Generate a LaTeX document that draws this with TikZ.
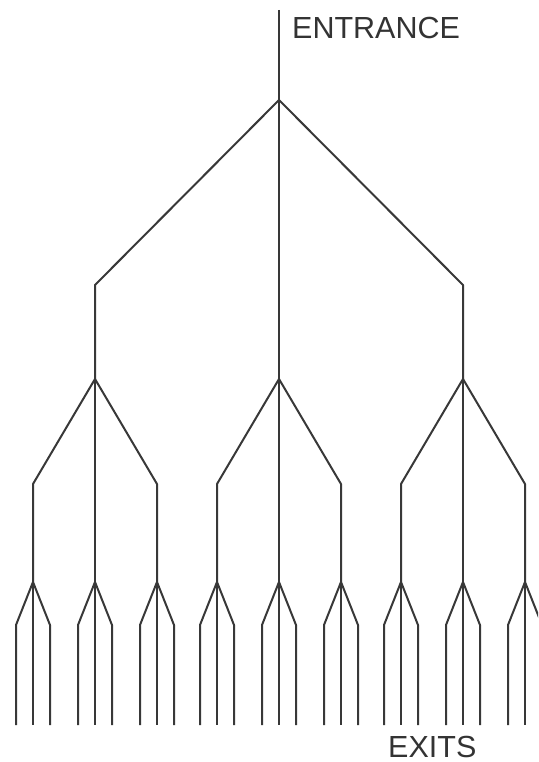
\documentclass[tikz,border=0pt]{standalone}
\usepackage{fontspec}
\setmainfont{Liberation Sans}
\begin{document}
\begin{tikzpicture}[x=1pt,y=-1pt,
  branch/.style={line width=2pt, draw=black!78, line join=round},
  lbl/.style={anchor=base west, font=\fontsize{30.5}{36}\selectfont, text=black!80, inner sep=0pt}]
\useasboundingbox (0,0) rectangle (538,762);
\clip (0,0) rectangle (538,762);
\coordinate (top) at (279,10);
\coordinate (root) at (279,100);
\draw[branch] (top) -- (root);
\foreach \i/\cx in {1/95,2/279,3/463} {
  \coordinate (k\i) at (\cx,285);
  \coordinate (b\i) at (\cx,379);
  \draw[branch] (root) -- (k\i) -- (b\i);
  \foreach \j/\dx in {1/-62,2/0,3/62} {
    \coordinate (k\i\j) at (\cx+\dx,484);
    \coordinate (b\i\j) at (\cx+\dx,582);
    \draw[branch] (b\i) -- (k\i\j) -- (b\i\j);
    \foreach \m/\ex in {1/-17,2/0,3/17} {
      \coordinate (k\i\j\m) at (\cx+\dx+\ex,625);
      \coordinate (e\i\j\m) at (\cx+\dx+\ex,725);
      \draw[branch] (b\i\j) -- (k\i\j\m) -- (e\i\j\m);
    }
  }
}
\node[lbl] (entrance) at (292,39) {ENTRANCE};
\node[lbl] (exits) at (388,757) {EXITS};
\end{tikzpicture}
\end{document}
